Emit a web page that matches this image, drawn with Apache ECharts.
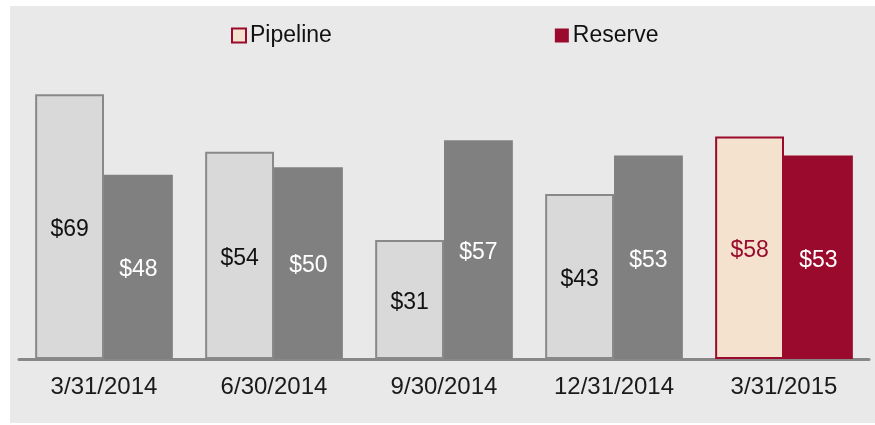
<!DOCTYPE html>
<html style="height: 100%">
<head>
    <meta charset="utf-8">
    <script src="https://cdn.jsdelivr.net/npm/echarts@6.0.0/dist/echarts.min.js"></script>
</head>
<body style="height: 100%; margin: 0; background: #fff">
    <div id="container" style="width: 875px; height: 425px"></div>
    <script type="text/javascript">
        var myChart = echarts.init(document.getElementById('container'));

        // colours
        const pipeFill = '#d9d9d9', pipeBorder = '#898989', reserveFill = '#808080';
        const accentFill = '#f5e2ce', accentRed = '#990a2c';
        const font = '"Liberation Sans", Arial, sans-serif';

        // data
        var categories = ['3/31/2014', '6/30/2014', '9/30/2014', '12/31/2014', '3/31/2015'];
        var pipeline = [69, 54, 31, 43, 58];
        var reserve = [48, 50, 57, 53, 53];

        var last = categories.length - 1;

        var pipeData = pipeline.map(function (v, i) {
            if (i !== last) return v;
            return {
                value: v,
                itemStyle: { color: accentFill, borderColor: accentRed },
                label: { color: accentRed }
            };
        });
        var reserveData = reserve.map(function (v, i) {
            if (i !== last) return v;
            return { value: v, itemStyle: { color: accentRed } };
        });

        var option = {
            animation: false,
            textStyle: { fontFamily: font },
            graphic: [{
                type: 'rect', z: -10, silent: true,
                shape: { x: 10, y: 6, width: 865, height: 417 },
                style: { fill: '#e9e9e9' }
            }],
            legend: {
                left: 226, top: 19,
                itemWidth: 14, itemHeight: 14,
                itemGap: 223,
                icon: 'rect',
                textStyle: { fontSize: 23, color: '#111', fontFamily: font, padding: [0, 0, 0, -1] },
                data: [
                    { name: 'Pipeline', itemStyle: { color: accentFill, borderColor: accentRed, borderWidth: 2 } },
                    { name: 'Reserve', itemStyle: { color: accentRed, borderWidth: 0 } }
                ]
            },
            grid: { left: 19, right: 6, top: 52, bottom: 66 },
            xAxis: {
                type: 'category',
                data: categories,
                axisLine: { lineStyle: { color: '#888', width: 3 } },
                axisTick: { show: false },
                axisLabel: { fontSize: 24, color: '#1a1a1a', margin: 16, fontFamily: font }
            },
            yAxis: {
                type: 'value', min: 0, max: 80,
                show: false
            },
            series: [
                {
                    name: 'Pipeline', type: 'bar',
                    barGap: '0%', barCategoryGap: '19%',
                    itemStyle: { color: pipeFill, borderColor: pipeBorder, borderWidth: 2 },
                    label: {
                        show: true, position: 'inside', color: '#111',
                        fontSize: 23, fontFamily: font, offset: [0, 3],
                        formatter: function (p) { return '$' + p.value; }
                    },
                    data: pipeData
                },
                {
                    name: 'Reserve', type: 'bar',
                    barGap: '0%', barCategoryGap: '19%',
                    itemStyle: { color: reserveFill },
                    label: {
                        show: true, position: 'inside', color: '#fff',
                        fontSize: 23, fontFamily: font, offset: [0, 3],
                        formatter: function (p) { return '$' + p.value; }
                    },
                    data: reserveData
                }
            ]
        };

        myChart.setOption(option);
    </script>
</body>
</html>
